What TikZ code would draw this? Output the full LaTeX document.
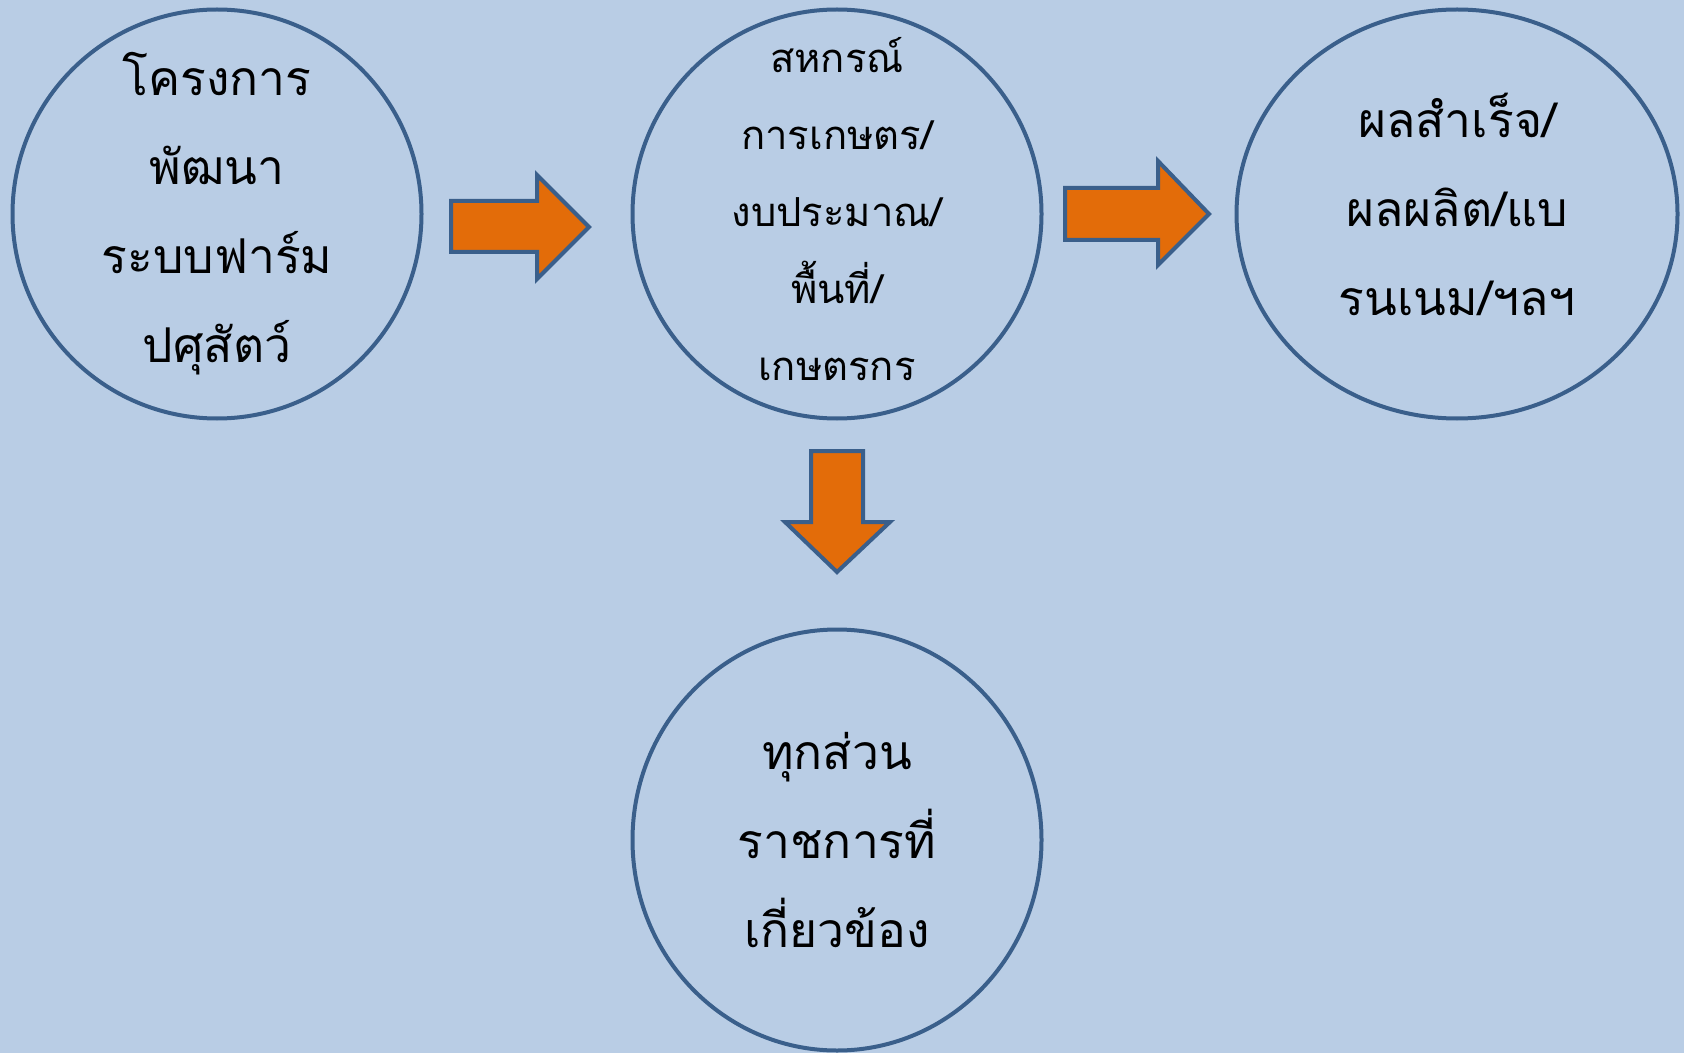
\documentclass[tikz,border=0pt]{standalone}
\usepackage{fontspec}
\newfontfamily\thaifont[Script=Thai]{Loma}
\usetikzlibrary{shapes.geometric}
\definecolor{bg}{HTML}{B9CDE5}
\definecolor{edgeblue}{HTML}{3A5F8B}
\definecolor{arrorange}{HTML}{E36C09}
\tikzset{
  bubble/.style={draw=edgeblue, line width=2pt, circle, minimum size=204.5pt, inner sep=0pt, align=center},
  oval/.style={draw=edgeblue, line width=2pt, ellipse, minimum width=220.5pt, minimum height=204.5pt, inner sep=0pt, align=center},
  tallbubble/.style={draw=edgeblue, line width=2pt, ellipse, minimum width=204.5pt, minimum height=210.5pt, inner sep=0pt, align=center},
  bigtext/.style={font=\thaifont\fontsize{24}{44.5}\selectfont},
  smalltext/.style={font=\thaifont\fontsize{20}{38.6}\selectfont},
  blockarrow/.style={fill=arrorange, draw=edgeblue, line width=2pt, line join=miter}
}
\begin{document}
\begin{tikzpicture}[x=0.5pt,y=-0.5pt]
\fill[bg] (0,0) rectangle (1684,1053);
\useasboundingbox (0,0) rectangle (1684,1053);

\node[bubble, bigtext] (proj) at (217,214) {โครงการ\\พัฒนา\\ระบบฟาร์ม\\ปศุสัตว์};
\node[bubble, label={[smalltext, align=center, yshift=2.5pt]center:สหกรณ์\\การเกษตร/\\งบประมาณ/\\พื้นที่/\\เกษตรกร}] (coop) at (837,214) {};
\node[oval, label={[bigtext, align=center, yshift=5pt]center:ผลสำเร็จ/\\ผลผลิต/แบ\\รนเนม/ฯลฯ}] (result) at (1457,214) {};
\node[tallbubble, bigtext] (gov) at (837,840) {ทุกส่วน\\ราชการที่\\เกี่ยวข้อง};

% block arrows
\draw[blockarrow] (451,201) -- (537,201) -- (537,175) -- (589,227) -- (537,279) -- (537,252) -- (451,252) -- cycle;
\draw[blockarrow] (1065,188) -- (1158,188) -- (1158,161) -- (1209,214) -- (1158,265) -- (1158,240) -- (1065,240) -- cycle;
\draw[blockarrow] (811,451) -- (863,451) -- (863,522) -- (890,522) -- (837,572) -- (785,522) -- (811,522) -- cycle;
\end{tikzpicture}
\end{document}
